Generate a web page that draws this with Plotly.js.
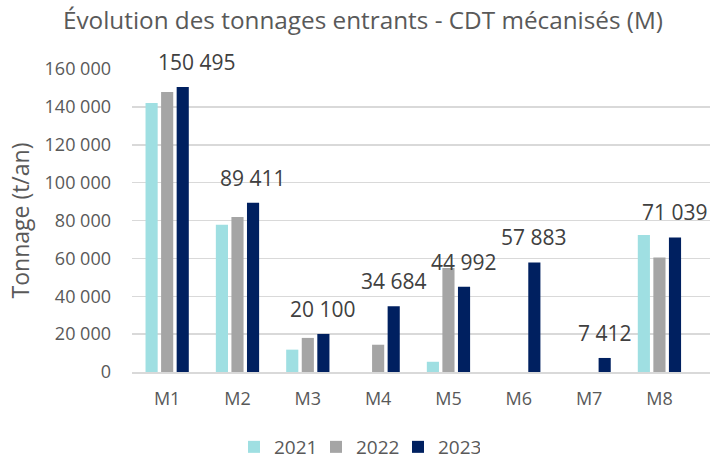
<!DOCTYPE html>
<html>
<head>
<meta charset="utf-8">
<script src="https://cdn.plot.ly/plotly-3.0.1.min.js"></script>
<style>html,body{margin:0;padding:0;background:#fff;}#chart{width:726px;height:461px;}</style>
</head>
<body>
<div id="chart"></div>
<script>
var categories = ['M1','M2','M3','M4','M5','M6','M7','M8'];
var years = ['2021','2022','2023'];
var values2021 = [142000, 77700, 11800, null, 5400, null, null, 72300];
var values2022 = [147800, 81800, 18000, 14400, 54900, null, null, 60500];
var values2023 = [150495, 89411, 20100, 34684, 44992, 57883, 7412, 71039];
var yTicks = [0, 20000, 40000, 60000, 80000, 100000, 120000, 140000, 160000];

var colors = ['#9fdfe2', '#a5a5a5', '#002060'];
var series = [values2021, values2022, values2023];
var FONT = '"Open Sans", "Liberation Sans", sans-serif';

function fmt(v){ return String(v).replace(/\B(?=(\d{3})+(?!\d))/g, '\u00a0'); }

var traces = series.map(function(vals, k){
  return {
    type: 'bar', name: years[k], x: categories, y: vals,
    marker: {color: colors[k]}, hoverinfo: 'skip'
  };
});

var bargap = 0.336, slot = (1 - bargap) / 3;
var annotations = values2023.map(function(v, i){
  return {
    x: i + slot, y: v, xref: 'x', yref: 'y',
    text: fmt(v), showarrow: false, yanchor: 'middle', xanchor: 'center',
    yshift: 25, xshift: i === 0 ? 14 : 0,
    font: {family: FONT, size: 21, color: '#404040'}
  };
});

var layout = {
  width: 726, height: 461,
  margin: {l: 132, r: 16, t: 69, b: 89},
  paper_bgcolor: '#fff', plot_bgcolor: '#fff',
  separators: ', ',
  barmode: 'group', bargap: bargap, bargroupgap: 0.22,
  title: {
    text: 'Évolution des tonnages entrants - CDT mécanisés (M)',
    x: 0.5, xanchor: 'center', y: 1 - 20/461, yanchor: 'middle',
    font: {family: FONT, size: 24.3, color: '#595959'}
  },
  xaxis: {
    type: 'category', showgrid: false, showline: true, linecolor: '#d9d9d9', linewidth: 1.5,
    ticks: '', ticklabelstandoff: 10,
    tickfont: {family: FONT, size: 18, color: '#595959'}
  },
  yaxis: {
    range: [0, 160000], tickvals: yTicks, tickformat: ',d',
    showgrid: true, gridcolor: '#d9d9d9', gridwidth: 1.5,
    zeroline: false, showline: false, ticks: '', ticklabelstandoff: 20,
    tickfont: {family: FONT, size: 18, color: '#595959'},
    title: {text: 'Tonnage (t/an)', standoff: 8, font: {family: FONT, size: 23, color: '#595959'}}
  },
  showlegend: true,
  legend: {
    orientation: 'h', xref: 'container', yref: 'container',
    x: 0.5 - 6/726, xanchor: 'center', y: 1 - 447/461, yanchor: 'middle',
    entrywidth: 37, entrywidthmode: 'pixels',
    font: {family: FONT, size: 19, color: '#595959'},
    itemclick: false, itemdoubleclick: false
  },
  annotations: annotations
};

Plotly.newPlot('chart', traces, layout, {displayModeBar: false, staticPlot: true});
</script>
</body>
</html>
